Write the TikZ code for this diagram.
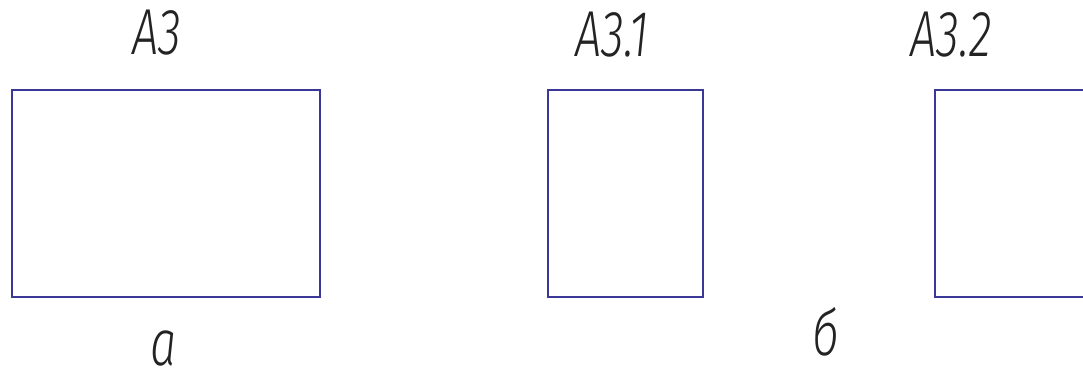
\documentclass[tikz,border=0pt]{standalone}
\usepackage{fontspec}
\newfontfamily\gostfont{Fira Sans}[UprightFont=* Light, ItalicFont=* Light Italic]
\definecolor{sheetblue}{RGB}{58,56,150}
\definecolor{inkgray}{RGB}{35,35,35}
\tikzset{
    sheet/.style={draw=sheetblue, line width=1.6pt},
    gostlabel/.style={text=inkgray, font=\fontsize{65}{67}\selectfont\gostfont\itshape, xscale=0.72, inner sep=0pt}
}
\begin{document}
\begin{tikzpicture}[x=1pt,y=-1pt]
    \useasboundingbox (0,0) rectangle (1083,368);

    % Sheet formats
    \draw[sheet] (12,90) rectangle (320,297);
    \draw[sheet] (548,90) rectangle (703,297);
    \draw[sheet] (935,90) rectangle (1090,297);

    % Format names
    \node[gostlabel] (a3) at (157,33) {A3};
    \node[gostlabel] (a31) at (612,35) {A3.1};
    \node[gostlabel] (a32) at (951,35) {A3.2};

    % Captions
    \node[gostlabel] (capa) at (164,348) {а};
    \node[gostlabel] (capb) at (826,332) {б};
\end{tikzpicture}
\end{document}
